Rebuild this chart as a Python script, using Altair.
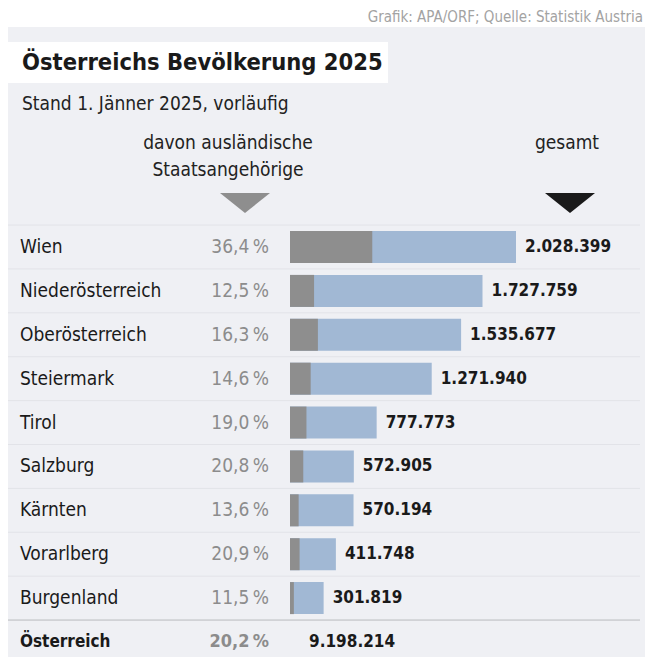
import altair as alt
import pandas as pd

# ---------------- data ----------------
regions = ["Wien", "Niederösterreich", "Oberösterreich", "Steiermark", "Tirol",
           "Salzburg", "Kärnten", "Vorarlberg", "Burgenland", "Österreich"]
totals = [2028399, 1727759, 1535677, 1271940, 777773,
          572905, 570194, 411748, 301819, 9198214]
foreign_pct = [36.4, 12.5, 16.3, 14.6, 19.0, 20.8, 13.6, 20.9, 11.5, 20.2]

title_text = "Österreichs Bevölkerung 2025"
subtitle_text = "Stand 1. Jänner 2025, vorläufig"
source_text = "Grafik: APA/ORF; Quelle: Statistik Austria"
head_foreign = ["davon ausländische", "Staatsangehörige"]
head_total = "gesamt"

FONT = "'DejaVu Sans Condensed', 'Liberation Sans Narrow', sans-serif"
BG = "#eff0f4"
DARK = "#1a1a1a"
GRAY_TXT = "#8c8c8c"
C_FOREIGN = "#8e8e8e"
C_TOTAL = "#a1b8d4"


def fmt_int(v):
    return f"{v:,}".replace(",", ".")


def fmt_pct(p):
    return f"{p:.1f}".replace(".", ",") + "\u202f%"


df = pd.DataFrame({
    "region": regions,
    "total": totals,
    "pct": foreign_pct,
})
df["idx"] = range(len(df))
df["is_sum"] = df["region"] == "Österreich"
df["foreign"] = df["total"] * df["pct"] / 100.0
df["pct_label"] = df["pct"].map(fmt_pct)
df["total_label"] = df["total"].map(fmt_int)
df["zero"] = 0

states = df[~df["is_sum"]]
sums = df[df["is_sum"]]

seps = pd.DataFrame({"sep": [i - 0.5 for i in range(len(df))]})
seps["dark"] = seps["sep"] > len(df) - 2

one = pd.DataFrame({"k": [0]})

yscale = alt.Scale(domain=[0, 9], range=[239, 634], nice=False, zero=False, padding=0)
xscale = alt.Scale(domain=[0, 2000000], range=[282, 504.84], nice=False, padding=0)

Y = alt.Y("idx:Q", scale=yscale, axis=None)

# ---------------- decorations ----------------
top_strip = alt.Chart(one).mark_rect(color="white").encode(
    x=alt.value(-10), x2=alt.value(660), y=alt.value(-10), y2=alt.value(19))

source = alt.Chart(one).mark_text(
    text=source_text, align="right", baseline="middle", font=FONT,
    fontSize=15, color="#a3a3a3").encode(x=alt.value(635), y=alt.value(9))

title_box = alt.Chart(one).mark_rect(color="white").encode(
    x=alt.value(0), x2=alt.value(380), y=alt.value(34), y2=alt.value(75))

title = alt.Chart(one).mark_text(
    text=title_text, align="left", baseline="middle", font=FONT,
    fontSize=23.5, fontWeight="bold", color=DARK).encode(
    x=alt.value(14), y=alt.value(55))

subtitle = alt.Chart(one).mark_text(
    text=subtitle_text, align="left", baseline="middle", font=FONT,
    fontSize=19, color="#222222").encode(x=alt.value(14), y=alt.value(96))

head1 = alt.Chart(one).mark_text(
    text=head_foreign[0], align="center", baseline="middle", font=FONT,
    fontSize=19, color="#222222").encode(x=alt.value(220), y=alt.value(135))
head2 = alt.Chart(one).mark_text(
    text=head_foreign[1], align="center", baseline="middle", font=FONT,
    fontSize=19, color="#222222").encode(x=alt.value(220), y=alt.value(162))
head3 = alt.Chart(one).mark_text(
    text=head_total, align="center", baseline="middle", font=FONT,
    fontSize=19, color="#222222").encode(x=alt.value(559), y=alt.value(135))

TRI = "M-1,-0.4L1,-0.4L0,0.4Z"
tri1 = alt.Chart(one).mark_point(
    shape=TRI, filled=True, size=2500, opacity=1, color=C_FOREIGN,
    strokeWidth=0).encode(x=alt.value(237), y=alt.value(195))
tri2 = alt.Chart(one).mark_point(
    shape=TRI, filled=True, size=2500, opacity=1, color=DARK,
    strokeWidth=0).encode(x=alt.value(562), y=alt.value(195))

rules = alt.Chart(seps).mark_rule(strokeWidth=1).encode(
    x=alt.value(0), x2=alt.value(632),
    y=alt.Y("sep:Q", scale=yscale, axis=None),
    color=alt.condition("datum.dark", alt.value("#b9babd"), alt.value("#e2e3e8")),
)

# ---------------- data marks ----------------
bar_total = alt.Chart(states).mark_bar(orient="horizontal", size=32, color=C_TOTAL).encode(
    x=alt.X("total:Q", scale=xscale, axis=None),
    x2=alt.X2("zero:Q"),
    y=Y,
)
bar_foreign = alt.Chart(states).mark_bar(orient="horizontal", size=32, color=C_FOREIGN).encode(
    x=alt.X("foreign:Q", scale=xscale, axis=None),
    x2=alt.X2("zero:Q"),
    y=Y,
)

names = alt.Chart(states).mark_text(
    align="left", baseline="middle", font=FONT, fontSize=19, color=DARK).encode(
    x=alt.value(12), y=Y, text="region:N")
names_sum = alt.Chart(sums).mark_text(
    align="left", baseline="middle", font=FONT, fontSize=17, fontWeight="bold",
    color=DARK).encode(x=alt.value(12), y=Y, text="region:N")

pcts = alt.Chart(states).mark_text(
    align="right", baseline="middle", font=FONT, fontSize=19, color=GRAY_TXT).encode(
    x=alt.value(261), y=Y, text="pct_label:N")
pcts_sum = alt.Chart(sums).mark_text(
    align="right", baseline="middle", font=FONT, fontSize=18, fontWeight="bold",
    color=GRAY_TXT).encode(x=alt.value(261), y=Y, text="pct_label:N")

values = alt.Chart(states).mark_text(
    align="left", baseline="middle", dx=9, font=FONT, fontSize=17,
    fontWeight="bold", color=DARK).encode(
    x=alt.X("total:Q", scale=xscale, axis=None), y=Y, text="total_label:N")
values_sum = alt.Chart(sums).mark_text(
    align="left", baseline="middle", dx=19, font=FONT, fontSize=17,
    fontWeight="bold", color=DARK).encode(
    x=alt.X("zero:Q", scale=xscale, axis=None), y=Y, text="total_label:N")

chart = alt.layer(
    top_strip, source, title_box, title, subtitle, head1, head2, head3,
    tri1, tri2, rules, bar_total, bar_foreign, names, names_sum,
    pcts, pcts_sum, values, values_sum,
).properties(
    width=637, height=649, autosize="none", padding=0, background=BG,
).configure_view(stroke=None)

chart.save("out.html", embed_options={"renderer": "svg", "actions": False})
